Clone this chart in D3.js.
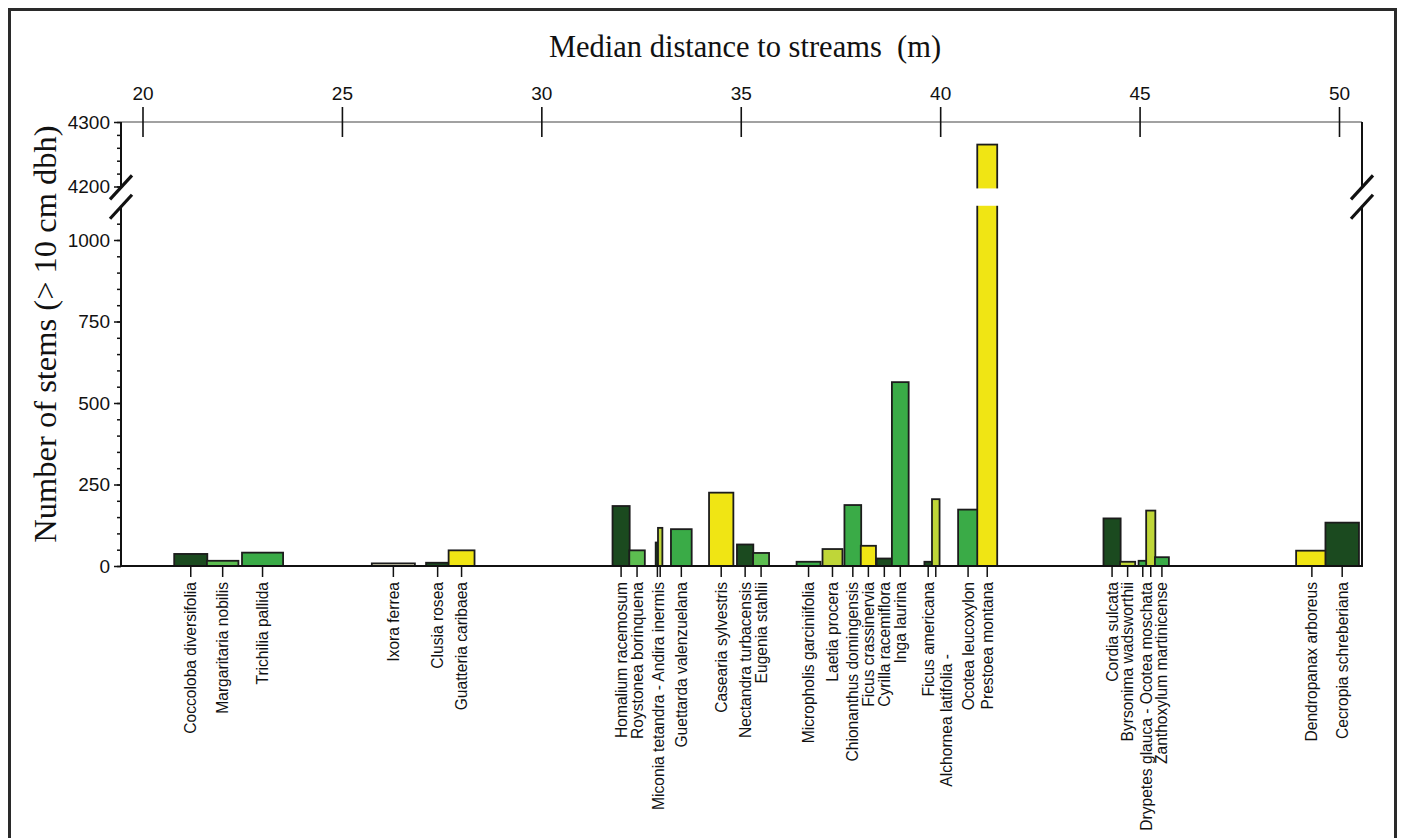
<!DOCTYPE html>
<html>
<head>
<meta charset="utf-8">
<script src="https://cdn.jsdelivr.net/npm/d3@7"></script>
<style>
  body { margin: 0; background: #fff; }
  svg { display: block; }
  .tick text { font-family: "Liberation Sans", Arial, sans-serif; }
</style>
</head>
<body>
<svg id="chart" width="1403" height="838"></svg>
<script>
// ---- data -------------------------------------------------------------
const species = [
  "Coccoloba diversifolia", "Margaritaria nobilis", "Trichilia pallida",
  "Ixora ferrea", "Clusia rosea", "Guatteria caribaea",
  "Homalium racemosum", "Roystonea borinquena", "Miconia tetandra",
  "Andira inermis", "Guettarda valenzuelana", "Casearia sylvestris",
  "Nectandra turbacensis", "Eugenia stahlii", "Micropholis garciniifolia",
  "Laetia procera", "Chionanthus domingensis", "Ficus crassinervia",
  "Cyrilla racemiflora", "Inga laurina", "Ficus americana",
  "Alchornea latifolia", "Ocotea leucoxylon", "Prestoea montana",
  "Cordia sulcata", "Byrsonima wadsworthii", "Drypetes glauca",
  "Ocotea moschata", "Zanthoxylum martinicense", "Dendropanax arboreus",
  "Cecropia schreberiana"
];
// median distance to streams (m)
const medianDistance = [
  21.21, 22.01, 23.01, 26.29, 27.40, 28.00,
  32.00, 32.40, 32.91, 32.98, 33.51, 34.51,
  35.11, 35.51, 36.70, 37.30, 37.81, 38.20,
  38.60, 39.00, 39.70, 39.89, 40.70, 41.18,
  44.31, 44.70, 45.08, 45.28, 45.56, 49.32,
  50.08
];
// number of stems > 10 cm dbh
const stems = [
  37, 16, 41, 8, 10, 48,
  184, 48, 72, 117, 113, 225,
  66, 40, 13, 52, 187, 62,
  23, 564, 13, 205, 173, 4265,
  146, 13, 16, 170, 27, 47,
  133
];
// bar span along the distance axis (m)
const spread = [
  0.83, 0.79, 1.03, 1.08, 0.58, 0.65,
  0.43, 0.39, 0.085, 0.11, 0.52, 0.61,
  0.41, 0.40, 0.60, 0.50, 0.42, 0.38,
  0.39, 0.42, 0.19, 0.19, 0.50, 0.50,
  0.43, 0.38, 0.21, 0.23, 0.35, 0.79,
  0.84
];
// colour class of each species
const group = [
  "g1", "g3", "g2", "g0", "g1", "g5",
  "g1", "g3", "g1", "g4", "g2", "g5",
  "g1", "g3", "g2", "g4", "g2", "g5",
  "g1", "g2", "g1", "g4", "g2", "g5",
  "g1", "g4", "g2", "g4", "g2", "g5",
  "g1"
];
const distanceTicks = [20, 25, 30, 35, 40, 45, 50];
const lowerTicks = [0, 250, 500, 750, 1000];
const upperTicks = [4200, 4300];
// species that share one rotated label
const sharedLabels = [
  { text: "Miconia tetandra - Andira inermis", members: ["Miconia tetandra", "Andira inermis"] },
  { text: "Drypetes glauca - Ocotea moschata", members: ["Drypetes glauca", "Ocotea moschata"] }
];

// ---- styling ----------------------------------------------------------
const palette = {
  g0: "#e9e6c4",
  g1: "#1b4a1f",
  g2: "#3aab47",
  g3: "#5cbd50",
  g4: "#bfd638",
  g5: "#f0e514"
};
const labelNudge = { "Alchornea latifolia -": { dx: 11, dy: 72 } };

const svg = d3.select("#chart");
const plotLeft = 121, plotRight = 1362, plotTop = 122, plotBottom = 566;
const serif = "'Liberation Serif', 'Times New Roman', serif";
const sans = "'Liberation Sans', Arial, sans-serif";

// outer frame
svg.append("rect")
  .attr("x", 9.5).attr("y", 9.5).attr("width", 1386).attr("height", 860)
  .attr("fill", "none").attr("stroke", "#2a2a2a").attr("stroke-width", 3);

// ---- scales (broken value axis) --------------------------------------
const x = d3.scaleLinear().domain([20, 50]).range([142.5, 1339]);
const yLow = d3.scaleLinear().domain([0, 1000]).range([plotBottom, 240]);
const yHigh = d3.scaleLinear().domain([4200, 4300]).range([186.5, plotTop]);
const lowMax = 1105, highMin = 4197;
const y = v => (v <= lowMax ? yLow(v) : yHigh(v));
const gapTop = yHigh(highMin), gapBottom = yLow(lowMax);

// ---- bars --------------------------------------------------------------
const rows = species.map((s, i) => ({
  name: s, d: medianDistance[i], n: stems[i], w: spread[i], g: group[i]
}));

const bars = svg.append("g");
bars.selectAll("rect.bar").data(rows).join("rect")
  .attr("class", "bar")
  .attr("x", d => x(d.d - d.w / 2))
  .attr("width", d => x(d.d + d.w / 2) - x(d.d - d.w / 2))
  .attr("y", d => y(d.n))
  .attr("height", d => yLow(0) - y(d.n))
  .attr("fill", d => palette[d.g])
  .attr("stroke", "#1c1c1c").attr("stroke-width", 1.8);

// white cut through bars that cross the axis break
bars.selectAll("rect.cut").data(rows.filter(d => d.n > lowMax)).join("rect")
  .attr("class", "cut")
  .attr("x", d => x(d.d - d.w / 2) - 2)
  .attr("width", d => x(d.d + d.w / 2) - x(d.d - d.w / 2) + 4)
  .attr("y", gapTop).attr("height", gapBottom - gapTop)
  .attr("fill", "#fff");

// ---- top distance axis -------------------------------------------------
svg.append("line")
  .attr("x1", plotLeft).attr("x2", plotRight)
  .attr("y1", plotTop).attr("y2", plotTop)
  .attr("stroke", "#444").attr("stroke-width", 1.2);

const topAxis = svg.append("g")
  .attr("transform", `translate(0,${plotTop})`)
  .call(d3.axisTop(x).tickValues(distanceTicks).tickFormat(d3.format("d"))
    .tickSize(15).tickPadding(7));
topAxis.select(".domain").remove();
topAxis.selectAll(".tick line").attr("y1", 15).attr("stroke", "#111").attr("stroke-width", 1.6);
topAxis.selectAll(".tick text").attr("font-size", 19).attr("fill", "#111");

svg.append("text")
  .attr("x", 745).attr("y", 57)
  .attr("text-anchor", "middle")
  .attr("font-family", serif).attr("font-size", 30.5).attr("fill", "#111")
  .style("white-space", "pre")
  .text("Median distance to streams  (m)");

// ---- left value axis ---------------------------------------------------
function valueAxis(scale, major, minor) {
  const g = svg.append("g").attr("transform", `translate(${plotLeft},0)`);
  g.call(d3.axisLeft(scale).tickValues(minor).tickSize(4).tickFormat(""));
  g.select(".domain").remove();
  g.selectAll(".tick line").attr("stroke", "#111").attr("stroke-width", 1.5);
  const m = svg.append("g").attr("transform", `translate(${plotLeft},0)`);
  m.call(d3.axisLeft(scale).tickValues(major).tickSize(7).tickPadding(4).tickFormat(d3.format("d")));
  m.select(".domain").remove();
  m.selectAll(".tick line").attr("stroke", "#111").attr("stroke-width", 1.5);
  m.selectAll(".tick text").attr("font-size", 19).attr("fill", "#111");
}
valueAxis(yLow, lowerTicks, d3.range(0, 1051, 50));
valueAxis(yHigh, upperTicks, d3.range(4200, 4301, 20));

// axis lines with the break
const axisLines = svg.append("g").attr("stroke", "#111").attr("stroke-width", 2);
[plotLeft, plotRight].forEach(px => {
  axisLines.append("line").attr("x1", px).attr("x2", px).attr("y1", plotTop).attr("y2", gapTop);
  axisLines.append("line").attr("x1", px).attr("x2", px).attr("y1", gapBottom).attr("y2", plotBottom + 1);
  [gapTop - 1, gapBottom + 1].forEach(cy => {
    axisLines.append("line")
      .attr("x1", px - 11).attr("y1", cy + 12)
      .attr("x2", px + 11).attr("y2", cy - 12)
      .attr("stroke-width", 3.2);
  });
});

svg.append("text")
  .attr("transform", `translate(45,${(plotTop + plotBottom) / 2 - 10}) rotate(-90)`)
  .attr("text-anchor", "middle").attr("dominant-baseline", "central")
  .attr("font-family", serif).attr("font-size", 32.5).attr("fill", "#111")
  .text("Number of stems (> 10 cm dbh)");

// ---- bottom baseline with one tick per species -------------------------
svg.append("line")
  .attr("x1", plotLeft).attr("x2", plotRight)
  .attr("y1", plotBottom).attr("y2", plotBottom)
  .attr("stroke", "#111").attr("stroke-width", 2);

svg.append("g").selectAll("line").data(rows).join("line")
  .attr("x1", d => x(d.d)).attr("x2", d => x(d.d))
  .attr("y1", plotBottom).attr("y2", plotBottom + 11)
  .attr("stroke", "#111").attr("stroke-width", 1.5);

// species labels
const shared = new Set(sharedLabels.flatMap(s => s.members));
const labels = rows.filter(d => !shared.has(d.name)).map(d => ({
  text: d.name === "Alchornea latifolia" ? "Alchornea latifolia -" : d.name,
  px: x(d.d)
}));
sharedLabels.forEach(s => {
  const px = d3.mean(s.members, m => x(rows.find(r => r.name === m).d));
  labels.push({ text: s.text, px });
});

svg.append("g").selectAll("text").data(labels).join("text")
  .attr("transform", d => {
    const nudge = labelNudge[d.text] || { dx: 0, dy: 0 };
    return `translate(${d.px + nudge.dx},${plotBottom + 16 + nudge.dy}) rotate(-90)`;
  })
  .attr("text-anchor", "end").attr("dominant-baseline", "central")
  .attr("font-family", sans).attr("font-size", 15.6).attr("fill", "#111")
  .text(d => d.text);
</script>
</body>
</html>
